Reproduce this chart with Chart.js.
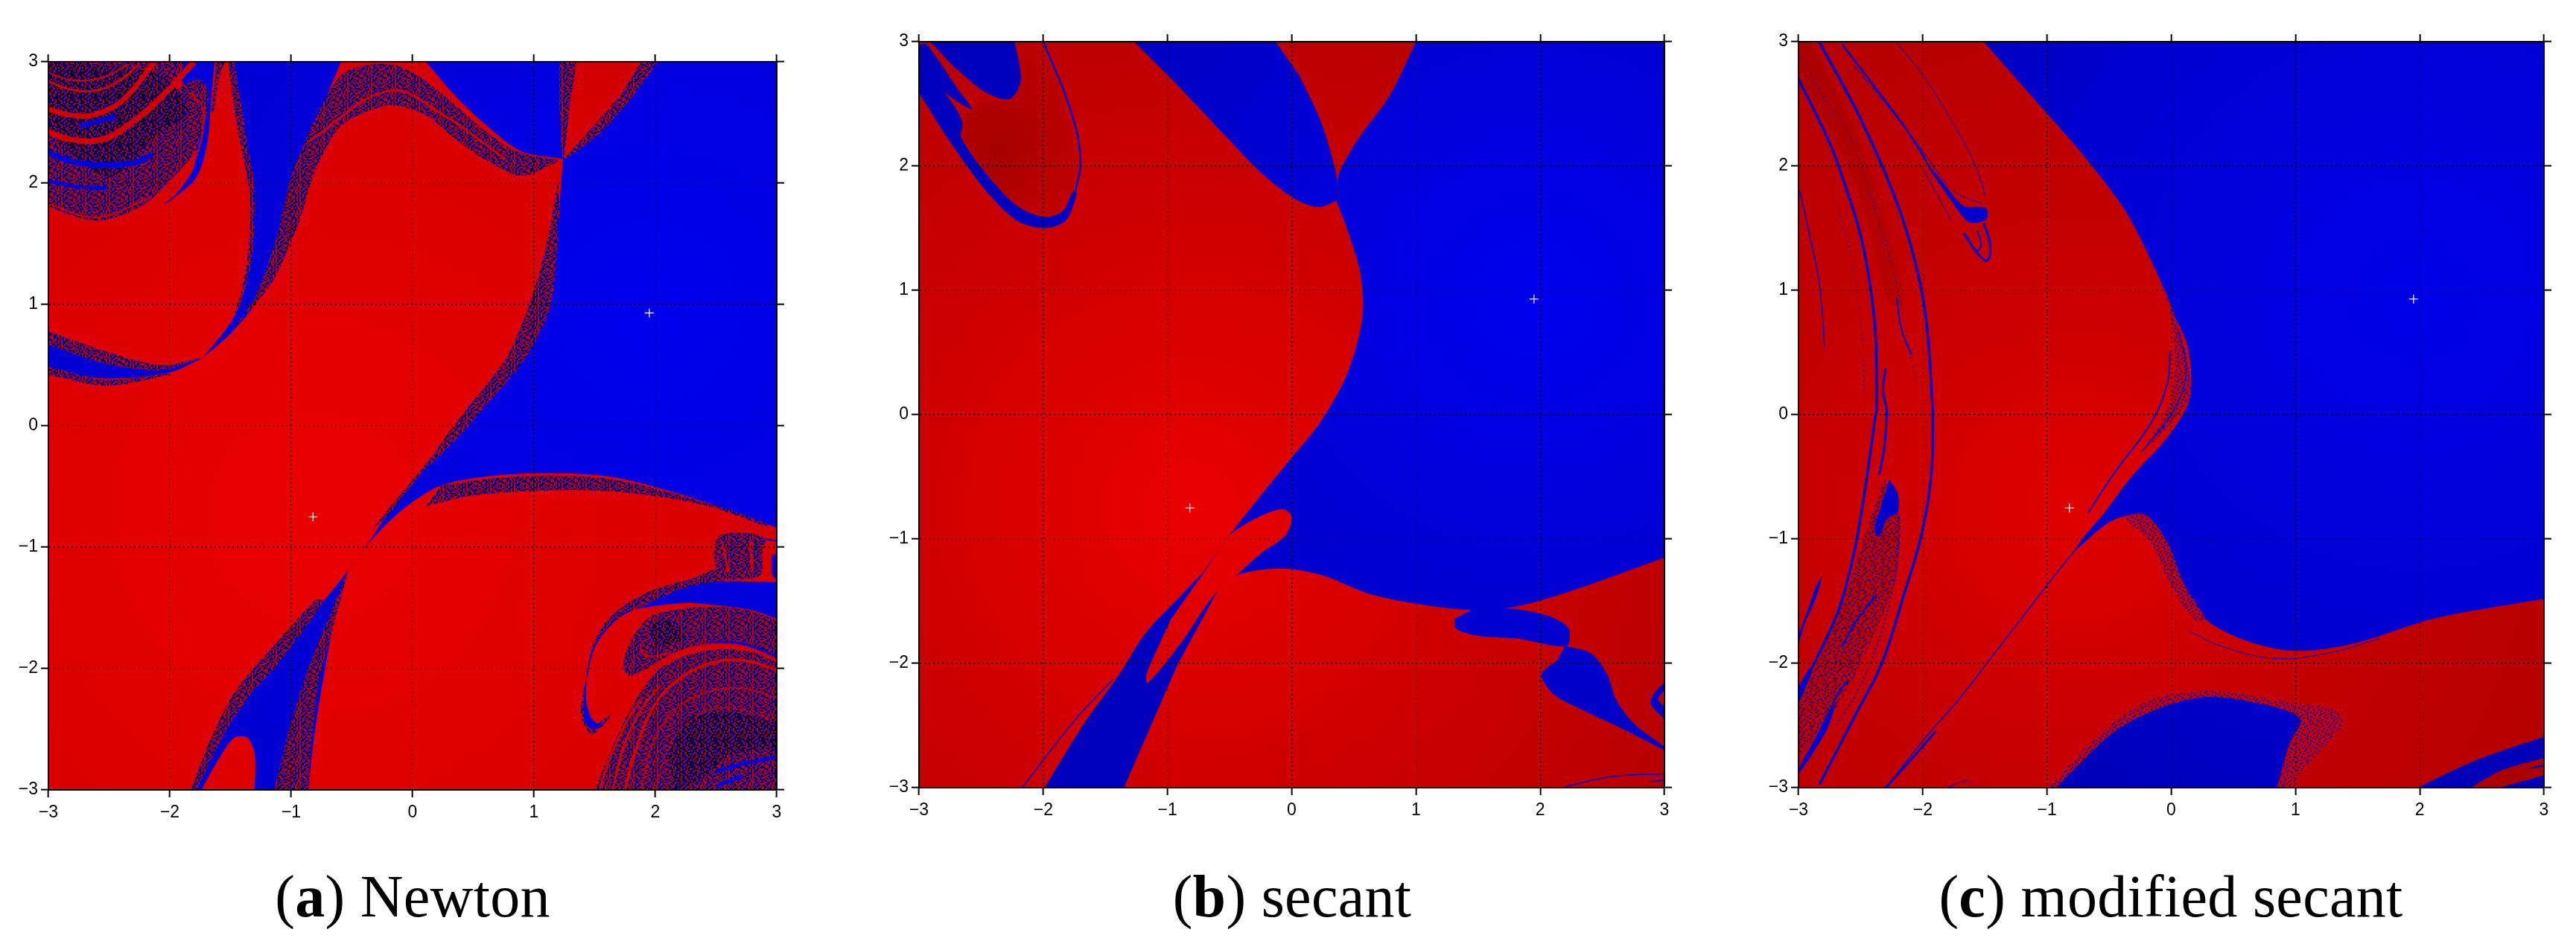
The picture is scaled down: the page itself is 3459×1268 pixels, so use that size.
<!DOCTYPE html>
<html>
<head>
<meta charset="utf-8">
<title>Basins of attraction</title>
<script src="https://cdn.jsdelivr.net/npm/chart.js@4/dist/chart.umd.js"></script>
<style>
body{margin:0;background:#fff;width:3459px;height:1268px;position:relative;overflow:hidden}
canvas{position:absolute;top:0}
.cap{position:absolute;top:1159px;width:900px;text-align:center;font:80px "Liberation Serif",serif;letter-spacing:.3px;color:#000;white-space:nowrap}
</style>
</head>
<body>
<canvas id="newton" width="1120" height="1125" style="left:0;width:1120px;height:1125px"></canvas>
<canvas id="secant" width="1120" height="1125" style="left:1170px;width:1120px;height:1125px"></canvas>
<canvas id="modified" width="1109" height="1125" style="left:2350px;width:1109px;height:1125px"></canvas>
<div class="cap" style="left:104px">(<b>a</b>) Newton</div>
<div class="cap" style="left:1285px">(<b>b</b>) secant</div>
<div class="cap" style="left:2465px">(<b>c</b>) modified secant</div>
<script>
// axis
const tickValues = [-3, -2, -1, 0, 1, 2, 3];
const tickLabels = ['\u22123', '\u22122', '\u22121', '0', '1', '2', '3'];
const roots = [[1.95, 0.93], [-0.82, -0.75]];
const square = [[-3, 3], [3, 3], [3, -3], [-3, -3]];

// (a) Newton - regions, x/y in axis units
const aRedMain = [[-3,0.47],[-2.52,0.39],[-2,0.44],[-1.73,0.56],[-1.73,0.56],[-1.51,0.75],[-1.29,1.02],[-1.12,1.48],[-0.99,2.02],[-0.81,2.47],[-0.59,3],[0.11,3],[0.37,2.7],[0.64,2.45],[0.9,2.26],[1.24,2.2],[1.24,2.2],[1.21,1.81],[1.18,1.31],[1.12,0.94],[0.96,0.61],[0.77,0.36],[0.55,0.11],[0.33,-0.14],[0.07,-0.39],[-0.2,-0.72],[-0.37,-0.97],[-0.53,-1.19],[-0.72,-1.43],[-0.9,-1.68],[-1.12,-1.97],[-1.34,-2.22],[-1.56,-2.55],[-1.78,-3],[-3,-3]];
const aRedLower = [[-0.53,-1.19],[-0.53,-1.19],[-0.33,-0.93],[-0.07,-0.68],[0.24,-0.49],[0.68,-0.41],[1.16,-0.39],[1.64,-0.42],[2.13,-0.54],[2.57,-0.68],[3,-0.84],[3,-3],[-0.86,-3],[-0.81,-2.55],[-0.7,-1.88],[-0.59,-1.34]];
const aRedUpperLeft = [[-3,0.78],[-2.52,0.61],[-2.08,0.5],[-1.73,0.56],[-1.73,0.56],[-1.47,0.9],[-1.34,1.31],[-1.3,1.89],[-1.38,2.43],[-1.47,3],[-3,3]];
const aRedWedge = [[1.21,3],[2.02,3],[1.78,2.68],[1.51,2.39],[1.24,2.2],[1.24,2.2],[1.21,2.63]];
const aRedSpike = [[-1.74,-3],[-1.6,-2.75],[-1.47,-2.57],[-1.36,-2.57],[-1.3,-2.71],[-1.3,-3]];
const aBlueStrip = [[-1.63,3],[-1.66,2.69],[-1.69,2.34],[-1.78,2.05],[-1.99,1.86],[-2.05,1.83],[-1.95,1.91],[-1.8,2.14],[-1.8,2.5],[-1.95,3]];
const aBlueLower = [[3,-1.29],[2.57,-1.28],[2.33,-1.31],[2.12,-1.38],[1.88,-1.49],[1.67,-1.6],[1.53,-1.75],[1.46,-1.91],[1.43,-2.09],[1.41,-2.26],[1.41,-2.4],[1.44,-2.47],[1.5,-2.5],[1.57,-2.44],[1.52,-2.45],[1.47,-2.4],[1.43,-2.26],[1.44,-2.05],[1.49,-1.85],[1.59,-1.69],[1.75,-1.54],[1.96,-1.49],[2.25,-1.46],[2.53,-1.48],[2.8,-1.52],[3,-1.59]];
const aBlueCurl = [[2.96,-1.06],[3,-1.06],[3,-1.28],[2.96,-1.22]];
const aSpeckHump = [[-1.73,0.56],[-1.51,0.77],[-1.3,1.06],[-1.12,1.56],[-1.01,2.02],[-0.83,2.47],[-0.59,2.89],[-0.33,2.98],[-0.07,2.95],[0.24,2.74],[0.55,2.47],[0.86,2.26],[1.2,2.19],[1.16,2.16],[0.9,2.06],[0.64,2.17],[0.37,2.35],[0.11,2.56],[-0.2,2.64],[-0.59,2.47],[-0.81,2.08],[-0.94,1.67],[-1.16,1.18],[-1.47,0.81]];
const aSpeckDiag = [[1.21,1.81],[1.18,1.31],[1.12,0.94],[0.96,0.61],[0.77,0.36],[0.55,0.11],[0.33,-0.14],[0.07,-0.39],[-0.15,-0.68],[-0.33,-0.85],[0.11,-0.31],[0.33,-0.01],[0.55,0.27],[0.77,0.56],[0.94,0.94],[1.09,1.44],[1.2,2.02]];
const aSpeckRim = [[0.24,-0.49],[0.68,-0.43],[1.16,-0.41],[1.64,-0.44],[2.13,-0.55],[2.57,-0.68],[2.92,-0.81],[2.92,-0.83],[2.43,-0.66],[1.86,-0.56],[1.43,-0.53],[0.9,-0.54],[0.46,-0.58],[0.11,-0.66]];
const aSpeckFoot = [[-1.14,-3],[-1.03,-2.55],[-0.88,-2.05],[-0.68,-1.55],[-0.55,-1.24],[-0.53,-1.19],[-0.66,-1.68],[-0.77,-2.09],[-0.83,-2.55],[-0.86,-3]];
const aSpeckEdge = [[-0.72,-1.43],[-0.9,-1.68],[-1.12,-1.97],[-1.34,-2.22],[-1.56,-2.55],[-1.78,-3],[-1.83,-3],[-1.65,-2.55],[-1.45,-2.17],[-1.1,-1.76],[-0.8,-1.43]];
const aSpeckArmTop = [[-3,0.78],[-2.52,0.61],[-2.08,0.5],[-1.75,0.56],[-2.08,0.46],[-2.52,0.51],[-3,0.67]];
const aSpeckArmLow = [[-3,0.49],[-2.52,0.38],[-2,0.43],[-2.52,0.33],[-3,0.42]];
const aSpeckRight = [[-1.47,3],[-1.38,2.43],[-1.3,1.89],[-1.34,1.31],[-1.47,0.9],[-1.37,1.31],[-1.34,1.89],[-1.44,2.43],[-1.52,3]];
const aSpeckWedgeR = [[1.88,3],[2.02,3],[1.78,2.68],[1.54,2.41],[1.25,2.2],[1.47,2.45],[1.71,2.72]];
const aSpeckWedgeL = [[1.21,3],[1.35,3],[1.29,2.6],[1.24,2.2],[1.21,2.63]];
const aSpeckSpiral = [[-3,1.81],[-2.85,1.75],[-2.6,1.69],[-2.36,1.75],[-2.15,1.87],[-1.99,2.03],[-1.82,2.22],[-1.71,2.5],[-1.69,2.75],[-1.74,2.85],[-1.8,2.85],[-1.91,2.79],[-1.99,2.71],[-1.91,2.89],[-1.88,3],[-3,3]];
const aSpeckThin = [[-1.62,3],[-1.55,3],[-1.6,2.83],[-1.64,2.59],[-1.66,2.59],[-1.63,2.83]];
const aSpeckCurl = [[2.48,-1.05],[2.52,-0.91],[2.74,-0.88],[2.9,-0.93],[2.88,-1.05],[2.88,-1.2],[2.83,-1.25],[2.57,-1.26],[2.5,-1.2]];
const aSpeckTail = [[2.51,-1.17],[2.29,-1.26],[2.04,-1.33],[1.82,-1.43],[1.61,-1.59],[1.49,-1.79],[1.44,-2],[1.4,-2.22],[1.39,-2.4],[1.47,-2.54],[1.55,-2.49],[1.63,-2.38],[1.49,-2.46],[1.42,-2.34],[1.45,-2.01],[1.53,-1.77],[1.71,-1.58],[1.98,-1.44],[2.29,-1.32],[2.57,-1.28]];
const aSpeckLobe = [[2.27,-1.5],[2.53,-1.49],[2.8,-1.53],[3,-1.6],[3,-1.93],[2.7,-1.81],[2.41,-1.81],[2.16,-1.87],[1.98,-1.97],[1.8,-2.06],[1.74,-2.01],[1.75,-1.89],[1.82,-1.73],[1.96,-1.57],[2.12,-1.52]];
const aSpeckBasin = [[1.5,-3],[1.61,-2.73],[1.75,-2.42],[1.92,-2.13],[2.08,-1.97],[2.33,-1.87],[2.57,-1.84],[2.82,-1.87],[3,-1.95],[3,-3]];
const aDarkBasin = [[2.25,-2.4],[2.6,-2.35],[3,-2.45],[3,-2.65],[2.6,-2.72],[2.4,-2.9],[2.15,-3],[2.1,-2.7]];
const aDarkLobe = [[1.95,-1.65],[2.1,-1.6],[2.25,-1.75],[2,-1.82]];
const aDarkSpiral = [[-3,2.4],[-2.5,2.05],[-2.1,2.4],[-1.85,2.6],[-2.1,2.9],[-3,3]];
const aRedArc1 = [[-3,2.61],[-2.81,2.56],[-2.6,2.57],[-2.36,2.71],[-2.13,3]];
const aRedArc2 = [[-3,2.42],[-2.81,2.36],[-2.56,2.36],[-2.34,2.48],[-2.07,2.71],[-1.8,3]];
const aRedArc3 = [[-3,2.91],[-2.81,2.85],[-2.56,2.87],[-2.34,2.98]];
const aRedArc4 = [[-3,2.84],[-2.85,2.78],[-2.64,2.76],[-2.44,2.83],[-2.25,2.98]];
const aRedArc5 = [[-3,1.83],[-2.6,1.72],[-2.15,1.89]];
const aRedArc6 = [[-1.82,2.74],[-1.72,2.59],[-1.8,2.18],[-1.99,1.93]];
const aBlueArc1 = [[-3,2.25],[-2.81,2.18],[-2.54,2.15],[-2.25,2.18],[-2.15,2.24]];
const aBlueArc2 = [[-3,2.02],[-2.76,1.97],[-2.52,1.96]];
const aBlueArc3 = [[-2.74,2.47],[-2.44,2.55]];
const aBasinArc1 = [[3,-1.93],[2.82,-1.84],[2.57,-1.8],[2.33,-1.82],[2.14,-1.89],[1.98,-2.01],[1.88,-2.07]];
const aBasinArc2 = [[1.75,-3],[1.82,-2.73],[1.96,-2.36],[2.14,-2.13],[2.41,-1.97],[2.7,-1.93],[3,-2.01]];
const aBasinArc3 = [[1.65,-3],[1.73,-2.67],[1.88,-2.34],[2.04,-2.14]];
const aBasinArc4 = [[1.54,-3],[1.62,-2.75],[1.75,-2.46],[1.88,-2.26]];
const aBasinArc5 = [[1.88,-3],[1.96,-2.67],[2.14,-2.36],[2.41,-2.2],[2.7,-2.16],[3,-2.24]];
const aBasinArc6 = [[2,-3],[2.12,-2.63],[2.33,-2.4],[2.57,-2.32],[3,-2.42]];
const aBasinArc7 = [[1.88,-1.79],[1.89,-1.87],[1.96,-1.9],[2.12,-1.87]];
const aBasinBlue1 = [[2.45,-1.78],[2.7,-1.79],[3,-1.9]];
const aBasinBlue2 = [[2.5,-2.85],[2.7,-2.79],[3,-2.73]];
const aBasinBlue3 = [[2.5,-2.97],[2.72,-2.88]];
const aCurlArc1 = [[2.55,-0.95],[2.6,-1.2]];
const aCurlArc2 = [[2.78,-0.95],[2.8,-1.2]];
const aCurlArc3 = [[2.9,-0.93],[3,-0.95]];
const aHumpArc = [[-0.85,2.35],[-0.2,2.76],[0.24,2.57],[0.76,2.2]];

// (b) secant
const bRedMain = [[-3,3],[-1.99,3],[-1.27,3],[-0.92,2.65],[-0.54,2.25],[-0.24,1.94],[0.02,1.74],[0.21,1.67],[0.36,1.72],[0.36,1.72],[0.45,1.48],[0.55,1.15],[0.57,0.79],[0.45,0.34],[0.23,-0.06],[-0.03,-0.38],[-0.33,-0.75],[-0.58,-1.07],[-0.71,-1.26],[-0.88,-1.44],[-1.18,-1.76],[-1.39,-2.09],[-1.69,-2.51],[-1.99,-3],[-3,-3]];
const bRedWedge = [[-0.13,3],[1,3],[0.79,2.57],[0.53,2.21],[0.38,1.94],[0.37,1.8],[0.38,1.72],[0.38,1.72],[0.35,1.97],[0.23,2.37],[0.06,2.73]];
const bRedLens = [[-0.7,-1.26],[-0.5,-0.97],[-0.24,-0.81],[-0.07,-0.76],[0,-0.82],[-0.05,-0.97],[-0.24,-1.11],[-0.5,-1.34],[-0.65,-1.48],[-0.88,-1.82],[-1.16,-2.16],[-1.17,-2.09],[-0.97,-1.64]];
const bRedLower = [[-0.62,-1.46],[-0.62,-1.46],[-0.5,-1.32],[-0.33,-1.26],[-0.03,-1.24],[0.27,-1.3],[0.62,-1.44],[1,-1.52],[1.43,-1.57],[1.77,-1.55],[2.24,-1.42],[3,-1.15],[3,-3],[-1.35,-3],[-0.92,-2.01]];
const bBlueBlob1 = [[1.45,-1.57],[1.77,-1.56],[2.07,-1.62],[2.23,-1.72],[2.21,-1.86],[1.81,-1.8],[1.51,-1.78],[1.32,-1.72],[1.31,-1.64]];
const bBlueBlob2 = [[2.2,-1.86],[2.41,-1.92],[2.54,-2.09],[2.61,-2.29],[2.76,-2.49],[3,-2.67],[3,-2.7],[2.67,-2.53],[2.33,-2.37],[2.11,-2.25],[2.01,-2.09],[2.14,-1.97]];
const bBlueRing = [[3,-2.15],[2.91,-2.25],[2.89,-2.33],[3,-2.45],[3,-2.35],[2.95,-2.29],[3,-2.21]];
const bBlueLobe = [[-2.91,3],[-2.23,3],[-2.18,2.69],[-2.27,2.54],[-2.46,2.59],[-2.72,2.8]];
const bBlueSliver = [[-3,2.98],[-2.94,2.98],[-2.68,2.61],[-2.57,2.46],[-2.61,2.47],[-2.81,2.61],[-3,2.86]];
const bBlueCrescent = [[-3,2.59],[-2.76,2.21],[-2.46,1.8],[-2.21,1.56],[-1.99,1.5],[-1.82,1.56],[-1.73,1.78],[-1.76,1.8],[-1.84,1.64],[-1.99,1.59],[-2.21,1.68],[-2.46,1.94],[-2.66,2.23],[-2.65,2.35],[-2.72,2.49],[-3,2.86]];
const bBlueLimb = [[-1.745,1.78],[-1.7,2.05],[-1.78,2.45],[-2,3]];
const bShadeInner = [[-2.66,2.23],[-2.65,2.35],[-2.55,2.5],[-2.27,2.54],[-2.18,2.69],[-2.23,3],[-2.01,3],[-1.82,2.45],[-1.71,2.03],[-1.76,1.8],[-1.84,1.64],[-1.99,1.59],[-2.21,1.68],[-2.46,1.94]];
const bBlueThin = [[-2.17,-3],[-1.74,-2.45],[-1.44,-2.13]];
const bBlueBottom1 = [[2.2,-2.99],[2.58,-2.91],[3,-2.89]];
const bBlueBottom2 = [[2.88,-2.95],[3,-2.94]];

// (c) modified secant
const cRedMain = [[-3,3],[-1.51,3],[-1.06,2.49],[-0.71,2.09],[-0.37,1.64],[-0.12,1.15],[0.01,0.83],[0.12,0.59],[0.16,0.34],[0.14,0.1],[-0.03,-0.18],[-0.33,-0.51],[-0.54,-0.79],[-0.71,-0.99],[-0.79,-1.11],[-0.79,-1.11],[-0.54,-0.89],[-0.39,-0.82],[-0.2,-0.81],[-0.03,-1.03],[0.1,-1.36],[0.27,-1.64],[0.61,-1.82],[1,-1.9],[1.47,-1.84],[2.11,-1.64],[3,-1.48],[3,-3],[-3,-3]];
const cPocketRim = [[-0.99,-3],[-0.54,-2.53],[-0.16,-2.29],[0.31,-2.22],[0.83,-2.29],[1.3,-2.37],[1.39,-2.47],[1.25,-2.65],[1.08,-2.84],[0.95,-3]];
const cPocket = [[-0.93,-3],[-0.46,-2.55],[-0.07,-2.35],[0.31,-2.27],[0.83,-2.35],[1.04,-2.45],[0.95,-2.65],[0.85,-3]];
const cBlueCorner = [[1.98,-3],[2.45,-2.78],[3,-2.59],[3,-3]];
const cRedCorner = [[2.41,-3],[2.66,-2.86],[3,-2.76],[3,-2.81],[2.86,-2.85],[3,-2.83],[3,-2.9],[2.71,-2.98],[2.62,-3]];
const cSpeckLeft = [[-2.31,-0.52],[-2.19,-0.8],[-2.2,-1.2],[-2.29,-1.53],[-2.43,-1.85],[-2.63,-2.25],[-2.83,-2.53],[-3,-2.75],[-3,-2.35],[-2.83,-1.95],[-2.67,-1.59],[-2.55,-1.24],[-2.43,-0.86]];
const cSpeckTip = [[-0.07,1.07],[0.03,0.79],[0.15,0.34],[0.13,0.1],[-0.2,-0.26],[-0.01,0.1],[0.03,0.47],[-0.01,0.83]];
const cSpeckBump = [[-0.39,-0.82],[-0.2,-0.81],[-0.03,-1.03],[0.1,-1.36],[0.27,-1.64],[0.18,-1.64],[0.01,-1.4],[-0.16,-1.03]];
const cShadeBand = [[-3,3],[-2.9,3],[-2.55,2.3],[-2.35,1.75],[-2.2,1.2],[-2.15,0.9],[-2.27,0.9],[-2.4,1.4],[-2.6,2],[-3,2.75]];
const cBlob1 = [[-1.99,2.06],[-1.83,1.86],[-1.67,1.68],[-1.49,1.66],[-1.49,1.57],[-1.63,1.55],[-1.77,1.72],[-1.95,1.98]];
const cBlob2 = [[-2.27,-0.52],[-2.2,-0.64],[-2.2,-0.78],[-2.29,-0.84],[-2.35,-0.98],[-2.39,-0.92],[-2.33,-0.72]];
const cLobe1 = [[-2.7,-2.33],[-2.77,-2.53],[-2.89,-2.73],[-3,-2.89],[-2.99,-2.83],[-2.85,-2.57],[-2.75,-2.37]];
const cLobe2 = [[-2.81,-1.29],[-2.83,-1.38],[-2.87,-1.5],[-2.95,-1.68],[-3,-1.85],[-3,-1.77],[-2.93,-1.58],[-2.86,-1.38]];
const cLobe3 = [[-2.91,-2.03],[-3,-2.19],[-3,-2.33],[-2.89,-2.07]];
const cLine1 = [[-3,2.7],[-2.87,2.44],[-2.73,2.14],[-2.61,1.8],[-2.51,1.48],[-2.43,1.08],[-2.38,0.64],[-2.37,0.04],[-2.38,0],[-2.43,-0.36],[-2.49,-0.76],[-2.56,-1.14],[-2.67,-1.55],[-2.81,-1.87],[-3,-2.25]];
const cLine2 = [[-2.83,2.99],[-2.69,2.74],[-2.51,2.4],[-2.31,1.96],[-2.17,1.6],[-2.05,1.18],[-1.97,0.74],[-1.92,0.04],[-1.92,0],[-1.93,-0.46],[-2.01,-0.96],[-2.15,-1.44],[-2.33,-2],[-2.53,-2.39],[-2.83,-2.97]];
const cLine3 = [[-2.65,2.98],[-2.39,2.64],[-2.15,2.32],[-1.97,2.04]];
const cLine4 = [[-2.55,2.8],[-2.33,2.54],[-2.03,2.16],[-1.75,1.8],[-1.53,1.7]];
const cLine5 = [[-2.21,2.99],[-1.99,2.72],[-1.79,2.4],[-1.63,2.12],[-1.53,1.88],[-1.5,1.76]];
const cLine6 = [[-1.51,1.54],[-1.46,1.38],[-1.48,1.24],[-1.56,1.3],[-1.67,1.46]];
const cLine7 = [[-1.56,1.48],[-1.53,1.36],[-1.57,1.32],[-1.65,1.44]];
const cLine8 = [[-1.99,1.96],[-1.77,1.56]];
const cLine9 = [[-2.99,1.8],[-2.91,1.44],[-2.83,1.04],[-2.79,0.54]];
const cDash1 = [[-2.69,1.68],[-2.57,1.24],[-2.49,0.64],[-2.47,0.06]];
const cDash2 = [[-3,2.9],[-2.79,2.54],[-2.59,2.24],[-2.35,1.54],[-2.23,1.12],[-2.15,0.74],[-2.05,0.24]];
const cDash3 = [[-2.19,-0.82],[-2.21,-1.2],[-2.27,-1.52],[-2.37,-1.85],[-2.51,-2.19],[-2.69,-2.49]];
const cLine10 = [[-2.21,0.94],[-2.17,0.68],[-2.09,0.48]];
const cLine11 = [[-2.3,0.37],[-2.32,0.2],[-2.29,0.04],[-2.29,0],[-2.31,-0.26],[-2.35,-0.48]];
const cHook1 = [[-2.37,-1.45],[-2.43,-1.52],[-2.55,-1.68],[-2.65,-1.87]];
const cHook2 = [[-2.6,-2.14],[-2.69,-2.25],[-2.79,-2.51]];
const cDiag = [[-0.76,-1.07],[-1,-1.37],[-1.23,-1.67],[-1.47,-1.98],[-1.71,-2.29],[-1.99,-2.61],[-2.27,-2.97]];
const cDiagLow = [[-1.9,-2.55],[-2.1,-2.78],[-2.3,-3]];
const cSmallArc = [[-1.8,-3],[-1.65,-2.94],[-1.6,-2.97]];
const cRim1 = [[-0.01,0.51],[-0.03,0.26],[-0.16,-0.06],[-0.46,-0.47],[-0.67,-0.79]];
const cRim2 = [[0.06,0.67],[0.12,0.34],[0.01,0.02],[-0.24,-0.3]];
const cRim3 = [[0.14,-1.74],[0.4,-1.86],[0.83,-1.96],[1.25,-1.92],[1.68,-1.8]];

// speckle tiles, one char per block
const tileSpeck = ['rbkrrbrkrbrkbrrb','rkrbbkrrbrkbrbkr','brrrkbbrkrbrbkrb','kbrrbrkbrbkrbrbk','rbkbrrbrkrbrkbrr','brrkrbkrbrbbkrbr','krbrbrbrkrbkrbrk','brrbkrbkbrkrbrbr','rkbrrkbrbrrbkbrb','brrbkrbrkrbrrkbk','rrkrbbkrbrkbrrbr','kbrbrkrbrbrkbrkb','rbkrrbbkrrkbrbrb','brrbkrbrbrrbkrbk','rrkbbrkrkrbbrbrr','kbrbrbrrbrkrbkbr'];
const tileDark = ['kbkbrkbkkbrkbkrk','bkrkbkkbkrkbrbkk','kkbrkbkrkkbrbkrb','kbkrbrkkrbkbkrbk','rkkbkrbkkrbrkbkr','kbrkrbkkbrkbkrkb','krkbkrbrkkbkrbrk','bkbkrkbkbrkkbrkb','rkbkrkbrkbrbkkrb','kbrbkkbrkrkbrkbk','brkrkbkbkrkbrkkr','kbkbrkrkrbkkbrkb','rkkrbkbkkrkbkbrb','bkrkkrbrkbrbkrkk','krkbkrkbkrkbrbkr','kbrkrbkrbkkrbkbk'];
const tileLight = ['rrbrrrbrrrrbrrbr','rbrrdrrrbrrdrrrr','rrrbrrbrrrbrrrbr','brrrrdrrbrrrbrrd','rrbrrrrbrrdrrbrr','rdrrbrrrrbrrrrrb','rrrbrrdrbrrbrrdr','brrrrbrrrrrrbrrr','rrdrbrrrbrdrrrbr','rbrrrrbrrrrbrrrr','rrrbrdrrrbrrrbrd','brrrrrrbrrrdrrrr','rrbrdrbrrrbrrbrr','rrrrbrrrrdrrrrrb','rbrrrrbrbrrrbrrr','rrrdrbrrrrbrrdrb'];
const tileMottled = ['rdbdrdrdbdrdrmdr','drdrmdbdrrdrbdrr','dbdrdrdrbdrmdrdr','rdrdbdrdrdbdrrbd','rdmdrdbdrdrdrdrd','drbdrdrdmdrbdrdb','bdrdrbdrdrdrrbdr','drrdbdrdbdmdrdrd','dmdrdrrdrbdrdbdr','drbdrdrdmdrdrdrd','rdrdrbdrdbdrdrdm','dbdmdrdrrdrdbdrd','rdrdbdrdrmdbdrdr','drdbdrdbdrdrdbdr','drmdrrdrdbrdmdrd','bdrdbdrdrdrdrdbd'];

const tileColours = {r:'#c00008', b:'#0000cc', k:'#08000f', d:'#a80000', m:'#500006'};
function makeTile(rows, cell){
    var c = document.createElement('canvas');
    c.width = rows[0].length*cell;
    c.height = rows.length*cell;
    var g = c.getContext('2d');
    rows.forEach(function(row, j){
        row.split('').forEach(function(ch, i){
            g.fillStyle = tileColours[ch];
            g.fillRect(i*cell, j*cell, cell, cell);
        });
    });
    return g.createPattern(c, 'repeat');
}
const speck = makeTile(tileSpeck, 2);
const dark = makeTile(tileDark, 2);
const light = makeTile(tileLight, 2);
const mottled = makeTile(tileMottled, 2);

// radial shading around a root, r in axis units
function radial(cx, cy, r, stops){
    return function(ctx){
        var ch = ctx.chart, sx = ch.scales.x;
        if(!ch.chartArea) return stops[0];
        var px = sx.getPixelForValue(cx), py = ch.scales.y.getPixelForValue(cy);
        var rp = r*(sx.getPixelForValue(1)-sx.getPixelForValue(0));
        var g = ch.ctx.createRadialGradient(px, py, 0, px, py, rp);
        stops.forEach(function(s, i){ g.addColorStop(i/(stops.length-1), s); });
        return g;
    };
}

function toXY(pts){
    return pts.map(function(p){return {x:p[0], y:p[1]};});
}
// points on the frame are doubled so the spline keeps a hard corner there
function sharpen(pts){
    var out = [];
    pts.forEach(function(p){
        out.push(p);
        if(Math.abs(p[0])===3 || Math.abs(p[1])===3) out.push(p);
    });
    return out;
}
function area(pts, colour, tension){
    return {data: toXY(sharpen(pts)), showLine:true, fill:'shape',
        backgroundColor:colour, borderWidth:0, pointRadius:0, tension: tension===undefined ? 0.3 : tension};
}
function stroke(pts, colour, w, dash){
    return {data: toXY(pts), showLine:true, fill:false, borderDash:dash || [],
        borderColor:colour, borderWidth:w, pointRadius:0, tension:0.4};
}
function crosses(){
    return {data: toXY(roots), showLine:false, pointStyle:'cross',
        pointRadius:6, pointBorderColor:'#fff', pointBorderWidth:1.2, pointBackgroundColor:'#fff'};
}

const blueA = radial(1.95, 0.93, 6, ['#0000ee', '#0000d8', '#0000d0']);
const redA = radial(-0.82, -0.75, 5.5, ['#ea0000', '#dc0000', '#cc0000']);
const redS = '#d00000';
const blueS = '#0000d8';
const newtonSets = [
    area(square, blueA, 0),
    area(aRedMain, redA), area(aRedLower, redA), area(aRedUpperLeft, redA), area(aRedWedge, redA), area(aRedSpike, redA),
    area(aBlueStrip, blueS),
    area(aSpeckHump, speck), area(aSpeckDiag, speck), area(aSpeckRim, speck), area(aSpeckFoot, speck), area(aSpeckEdge, speck),
    area(aSpeckArmTop, speck), area(aSpeckArmLow, speck), area(aSpeckRight, speck), area(aSpeckWedgeR, speck), area(aSpeckWedgeL, speck),
    area(aSpeckSpiral, speck), area(aSpeckThin, speck), area(aSpeckCurl, speck), area(aSpeckTail, speck),
    area(aBlueLower, blueS), area(aBlueCurl, blueS),
    area(aSpeckLobe, speck), area(aSpeckBasin, speck),
    area(aDarkBasin, dark), area(aDarkLobe, dark), area(aDarkSpiral, dark),
    stroke(aRedArc1, redS, 7), stroke(aRedArc2, redS, 8), stroke(aRedArc3, redS, 2), stroke(aRedArc4, redS, 3), stroke(aRedArc5, redS, 2), stroke(aRedArc6, redS, 2),
    stroke(aBlueArc1, blueS, 8), stroke(aBlueArc2, blueS, 5), stroke(aBlueArc3, blueS, 7),
    stroke(aBasinArc1, redS, 3), stroke(aBasinArc2, redS, 4), stroke(aBasinArc3, redS, 3), stroke(aBasinArc4, redS, 3), stroke(aBasinArc5, redS, 1.5), stroke(aBasinArc6, redS, 1), stroke(aBasinArc7, redS, 2),
    stroke(aBasinBlue1, blueS, 3), stroke(aBasinBlue2, blueS, 5), stroke(aBasinBlue3, blueS, 5),
    stroke(aCurlArc1, redS, 3), stroke(aCurlArc2, redS, 3), stroke(aCurlArc3, blueS, 2),
    stroke(aHumpArc, redS, 3),
    crosses()
];

const blueB = radial(1.95, 0.93, 4.5, ['#0000ee', '#0000d4', '#0000bc']);
const redB = radial(-0.82, -0.75, 5, ['#ea0000', '#cc0000', '#b00000']);
const secantSets = [
    area(square, blueB, 0),
    area(bRedMain, redB), area(bRedWedge, redB), area(bRedLens, redB), area(bRedLower, redB),
    area(bBlueBlob1, blueB), area(bBlueBlob2, blueB), area(bBlueRing, blueB), area(bBlueLobe, blueB), area(bBlueSliver, blueB), area(bBlueCrescent, blueB),
    area(bShadeInner, radial(-2.35, 2.1, 0.9, ['rgba(60,0,0,0.22)', 'rgba(60,0,0,0.1)', 'rgba(60,0,0,0)'])),
    stroke(bBlueLimb, '#0000d0', 2.5),
    stroke(bBlueThin, '#0000d8', 1.5), stroke(bBlueBottom1, '#0000c8', 1.5), stroke(bBlueBottom2, '#0000c8', 1.5),
    crosses()
];

const blueC = radial(1.95, 0.93, 6, ['#0000e8', '#0000d0', '#0000a8']);
const redC = radial(-0.82, -0.75, 4.5, ['#e00000', '#c40000', '#b40000']);
const blueL = '#0000cc';
const modifiedSets = [
    area(square, blueC, 0),
    area(cRedMain, redC),
    area(cShadeBand, 'rgba(90,0,0,0.12)'),
    area(cPocketRim, light), area(cPocket, blueC), area(cBlueCorner, '#0000b8'), area(cRedCorner, '#aa0000'),
    area(cSpeckLeft, mottled), area(cSpeckTip, light), area(cSpeckBump, light),
    area(cBlob1, blueL), area(cBlob2, blueL), area(cLobe1, blueL), area(cLobe2, blueL), area(cLobe3, blueL),
    stroke(cLine1, blueL, 3.5), stroke(cLine2, blueL, 3.5), stroke(cLine3, blueL, 2.5), stroke(cLine4, blueL, 1), stroke(cLine5, blueL, 1),
    stroke(cLine6, blueL, 3), stroke(cLine7, blueL, 2), stroke(cLine8, blueL, 1), stroke(cLine9, blueL, 1.5),
    stroke(cLine10, blueL, 2), stroke(cLine11, blueL, 3), stroke(cHook1, blueL, 2.5), stroke(cHook2, blueL, 2.5),
    stroke(cDash1, blueL, 1, [2,5]), stroke(cDash2, blueL, 1, [2,4]), stroke(cDash3, blueL, 1.5, [3,3]),
    stroke(cDiag, blueL, 1.5), stroke(cDiagLow, blueL, 3), stroke(cSmallArc, blueL, 1),
    stroke(cRim1, blueL, 2), stroke(cRim2, blueL, 1.5), stroke(cRim3, blueL, 1),
    crosses()
];

function axis(position, labelled, pad, size, drawGrid){
    var horizontal = position==='top' || position==='bottom';
    return {
        type:'linear', axis: horizontal ? 'x' : 'y', position:position, min:-3, max:3,
        afterBuildTicks:function(s){ s.ticks = tickValues.map(function(v){return {value:v};}); },
        afterFit:function(s){ if(horizontal) s.height = size; else s.width = size; },
        ticks:{display:labelled, autoSkip:false, maxRotation:0, padding:pad, color:'#000',
            font:{family:'"Liberation Sans", sans-serif', size:23},
            callback:function(v, i){ return tickLabels[i]; }},
        grid:{z:1, display:true, drawOnChartArea:drawGrid, color:'#000', lineWidth:1.3, tickLength:10,
            tickColor:'#000', tickWidth:2, tickBorderDash:[]},
        border:{z:1, display:true, color:'#000', width:2, dash:[2,4]}
    };
}

function draw(id, sets, left, right, top, bottom){
    // chart.js paints the first dataset last
    new Chart(document.getElementById(id), {
        type:'scatter',
        data:{datasets: sets.slice().reverse()},
        options:{
            responsive:false, animation:false,
            layout:{padding:0},
            plugins:{legend:{display:false}, tooltip:{enabled:false}},
            scales:{
                x:axis('bottom', true, 7, bottom, true),
                y:axis('left', true, 4, left, true),
                x2:axis('top', false, 0, top, false),
                y2:axis('right', false, 0, right, false)
            }
        }
    });
}
draw('newton', newtonSets, 65, 77, 83, 64);
draw('secant', secantSets, 64, 55, 56, 67);
draw('modified', modifiedSets, 65, 43, 56, 67);
</script>
</body>
</html>
